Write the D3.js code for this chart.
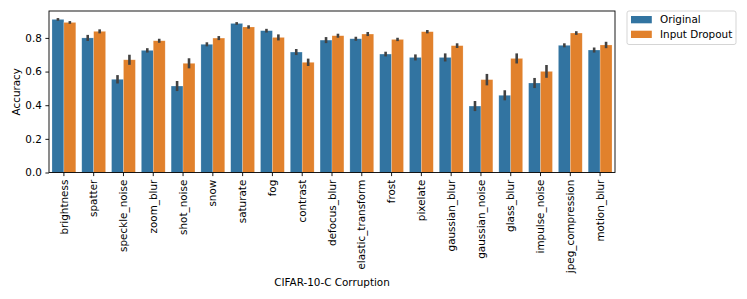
<!DOCTYPE html>
<html>
<head>
<meta charset="utf-8">
<script src="https://cdn.jsdelivr.net/npm/d3@7"></script>
<style>
  body { margin: 0; background: #fff; }
  text { font-family: "DejaVu Sans", sans-serif; }
</style>
</head>
<body>
<div id="chart"></div>
<script>
const categories = ["brightness", "spatter", "speckle_noise", "zoom_blur", "shot_noise", "snow", "saturate", "fog", "contrast", "defocus_blur", "elastic_transform", "frost", "pixelate", "gaussian_blur", "gaussian_noise", "glass_blur", "impulse_noise", "jpeg_compression", "motion_blur"]
const seriesNames = ["Original", "Input Dropout"]
const original = [0.910, 0.800, 0.554, 0.726, 0.514, 0.762, 0.886, 0.843, 0.716, 0.787, 0.795, 0.704, 0.684, 0.684, 0.395, 0.459, 0.532, 0.756, 0.728]
const dropout = [0.892, 0.839, 0.670, 0.783, 0.649, 0.799, 0.865, 0.803, 0.655, 0.813, 0.823, 0.791, 0.837, 0.754, 0.552, 0.678, 0.601, 0.829, 0.758]
const originalErr = [0.008, 0.018, 0.025, 0.013, 0.03, 0.012, 0.008, 0.011, 0.018, 0.018, 0.012, 0.014, 0.018, 0.024, 0.03, 0.03, 0.03, 0.012, 0.015]
const dropoutErr = [0.008, 0.012, 0.03, 0.012, 0.03, 0.012, 0.01, 0.018, 0.022, 0.012, 0.012, 0.01, 0.01, 0.014, 0.034, 0.03, 0.038, 0.011, 0.019]
const yTicks = [0.0, 0.2, 0.4, 0.6, 0.8]
const colors = ["#3274a1", "#e1812c"]

const width = 747, height = 299
const margin = { top: 11, right: 132, bottom: 126.5, left: 49 }
const innerW = width - margin.left - margin.right
const innerH = height - margin.top - margin.bottom

const svg = d3.select("#chart").append("svg")
    .attr("width", width)
    .attr("height", height)

const g = svg.append("g").attr("transform", `translate(${margin.left},${margin.top})`)

const x = d3.scaleBand().domain(categories).range([0, innerW]).paddingInner(0.2).paddingOuter(0.1)
const xSub = d3.scaleBand().domain(seriesNames).range([0, x.bandwidth()])
const y = d3.scaleLinear().domain([0, 0.96]).range([innerH, 0])

const rows = categories.map((c, i) => ({
    cat: c,
    vals: [
        { s: seriesNames[0], v: original[i], e: originalErr[i], col: colors[0] },
        { s: seriesNames[1], v: dropout[i], e: dropoutErr[i], col: colors[1] }
    ]
}))

const grp = g.selectAll("g.cat").data(rows).join("g")
    .attr("class", "cat")
    .attr("transform", d => `translate(${x(d.cat)},0)`)

grp.selectAll("rect").data(d => d.vals).join("rect")
    .attr("x", d => xSub(d.s))
    .attr("width", xSub.bandwidth())
    .attr("y", d => y(d.v))
    .attr("height", d => y(0) - y(d.v))
    .attr("fill", d => d.col)
    .attr("stroke", "#ffffff")
    .attr("stroke-opacity", 0.35)
    .attr("stroke-width", 0.6)

// error bars
grp.selectAll("line.err").data(d => d.vals).join("line")
    .attr("class", "err")
    .attr("x1", d => xSub(d.s) + xSub.bandwidth() / 2)
    .attr("x2", d => xSub(d.s) + xSub.bandwidth() / 2)
    .attr("y1", d => y(d.v - d.e))
    .attr("y2", d => y(d.v + d.e))
    .attr("stroke", "#424242")
    .attr("stroke-width", 2.6)

// axes
const xAxis = g.append("g")
    .attr("transform", `translate(0,${innerH})`)
    .call(d3.axisBottom(x).tickSize(3.6).tickPadding(3.6))
xAxis.select(".domain").remove()
xAxis.selectAll("text")
    .attr("transform", "rotate(-90)")
    .attr("text-anchor", "end")
    .attr("x", -7.2)
    .attr("y", 0)
    .attr("dy", "0.35em")
    .attr("font-size", "10.4px")
    .attr("fill", "#000")
    .style("font-family", "DejaVu Sans")
xAxis.selectAll("line").attr("stroke", "#000").attr("stroke-width", 0.9)

const yAxis = g.append("g")
    .call(d3.axisLeft(y).tickValues(yTicks).tickFormat(d3.format(".1f")).tickSize(3.6).tickPadding(3.6))
yAxis.select(".domain").remove()
yAxis.selectAll("text")
    .attr("font-size", "10.4px")
    .attr("fill", "#000")
    .style("font-family", "DejaVu Sans")
yAxis.selectAll("line").attr("stroke", "#000").attr("stroke-width", 0.9)

// frame
g.append("rect")
    .attr("x", 0).attr("y", 0)
    .attr("width", innerW).attr("height", innerH)
    .attr("fill", "none")
    .attr("stroke", "#000")
    .attr("stroke-width", 0.9)

// axis labels
svg.append("text")
    .attr("x", margin.left + innerW / 2)
    .attr("y", 286)
    .attr("text-anchor", "middle")
    .attr("font-size", "10.4px")
    .text("CIFAR-10-C Corruption")

svg.append("text")
    .attr("transform", `translate(19.5,${margin.top + innerH / 2}) rotate(-90)`)
    .attr("text-anchor", "middle")
    .attr("font-size", "10.4px")
    .text("Accuracy")

// legend
const lg = svg.append("g").attr("transform", "translate(627,11)")
lg.append("rect")
    .attr("width", 109).attr("height", 33.5)
    .attr("rx", 2)
    .attr("fill", "#fff")
    .attr("stroke", "#d0d0d0")
    .attr("stroke-width", 0.9)
seriesNames.forEach((s, i) => {
    lg.append("rect")
        .attr("x", 4).attr("y", 5 + i * 14.7)
        .attr("width", 20.8).attr("height", 7.3)
        .attr("fill", colors[i])
    lg.append("text")
        .attr("x", 33).attr("y", 12.4 + i * 14.7)
        .attr("font-size", "10.4px")
        .text(s)
})
</script>
</body>
</html>
